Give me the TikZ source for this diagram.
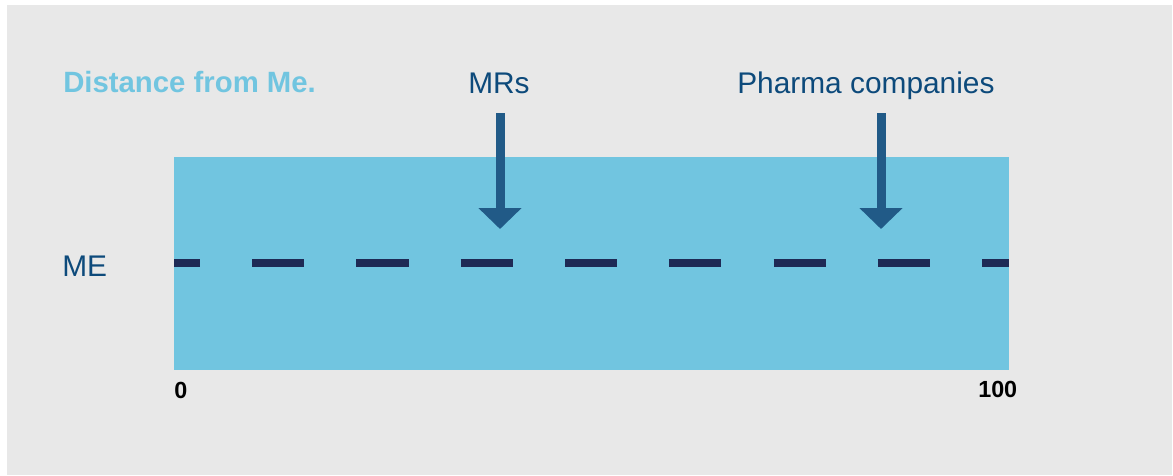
\documentclass[tikz,border=0pt]{standalone}
\usepackage{fontspec}
\setmainfont{Liberation Sans}
\usetikzlibrary{arrows.meta}
\definecolor{bggrey}{HTML}{E8E8E8}
\definecolor{skyblue}{HTML}{71C5E0}
\definecolor{arrowblue}{HTML}{215A87}
\definecolor{dashnavy}{HTML}{1E2A55}
\definecolor{textblue}{HTML}{0D4A7B}
\tikzset{
  label/.style={inner sep=0pt, anchor=base west, text=textblue, font=\fontsize{22.4}{26}\selectfont},
  numlabel/.style={inner sep=0pt, anchor=base west, text=black, font=\fontsize{17.5}{20}\selectfont\bfseries},
  pointer/.style={draw=arrowblue, line width=6.75pt, -{Triangle[width=31.5pt,length=15.75pt]}},
  meline/.style={draw=dashnavy, line width=6pt, dash pattern=on 39.1pt off 39.1pt, dash phase=19.55pt}
}
\begin{document}
\begin{tikzpicture}[x=0.75pt, y=-0.75pt]
\useasboundingbox (0,0) rectangle (1173,475);
\fill[white] (0,0) rectangle (1173,475);
\fill[bggrey] (7,5) rectangle (1172,475);
\fill[skyblue] (174,157) rectangle (1009,370);
% title
\node[inner sep=0pt, anchor=base west, text=skyblue, font=\fontsize{22}{26}\selectfont\bfseries] (title) at (63,92) {Distance from Me.};
% labels
\node[label] (mrs) at (468,93) {MRs};
\node[label] (pharma) at (737,93) {Pharma companies};
\node[label] (me) at (62,276) {ME};
\node[numlabel] (zero) at (174,398) {0};
\node[numlabel] (hundred) at (978,397) {100};
% dashed line
\coordinate (lineL) at (174,263);
\coordinate (lineR) at (1009,263);
\draw[meline] (lineL) -- (lineR);
% arrows
\coordinate (mrsTop) at (500,113);
\coordinate (mrsTip) at (500,229);
\coordinate (phTop) at (881,113);
\coordinate (phTip) at (881,229);
\draw[pointer] (mrsTop) -- (mrsTip);
\draw[pointer] (phTop) -- (phTip);
\end{tikzpicture}
\end{document}
